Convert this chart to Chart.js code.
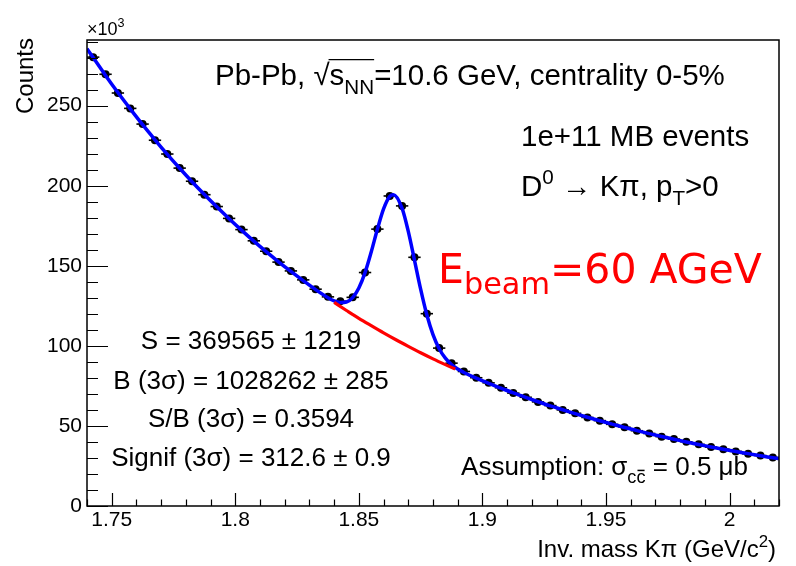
<!DOCTYPE html>
<html>
<head>
<meta charset="utf-8">
<script src="https://cdn.jsdelivr.net/npm/chart.js@4.4.1/dist/chart.umd.min.js"></script>
<style>
  html, body { margin: 0; padding: 0; background: #fff; }
  canvas { display: block; }
</style>
</head>
<body>
<canvas id="massChart" width="796" height="566"></canvas>
<script>
// ============================================================================
// Data (counts in units of 10^3)
// ============================================================================

// bin centres of the invariant mass histogram (GeV/c^2), bin width 5 MeV
const binMass = [
  1.7425, 1.7475, 1.7525, 1.7575, 1.7625, 1.7675, 1.7725, 1.7775, 1.7825, 1.7875,
  1.7925, 1.7975, 1.8025, 1.8075, 1.8125, 1.8175, 1.8225, 1.8275, 1.8325, 1.8375,
  1.8425, 1.8475, 1.8525, 1.8575, 1.8625, 1.8675, 1.8725, 1.8775, 1.8825, 1.8875,
  1.8925, 1.8975, 1.9025, 1.9075, 1.9125, 1.9175, 1.9225, 1.9275, 1.9325, 1.9375,
  1.9425, 1.9475, 1.9525, 1.9575, 1.9625, 1.9675, 1.9725, 1.9775, 1.9825, 1.9875,
  1.9925, 1.9975, 2.0025, 2.0075, 2.0125, 2.0175
];
const binCounts = [
  280.3, 269.6, 257.9, 248.3, 238.5, 228.4, 219.8, 211.0, 202.8, 194.4,
  187.0, 179.6, 172.6, 165.6, 159.1, 152.3, 146.8, 141.2, 135.4, 130.6,
  127.9, 130.3, 145.8, 172.9, 193.6, 187.4, 155.3, 120.1, 98.6, 89.2,
  84.0, 80.1, 76.9, 73.8, 70.5, 67.9, 65.0, 62.7, 60.0, 57.9,
  55.3, 53.3, 51.0, 49.2, 47.0, 45.3, 43.3, 41.8, 40.1, 38.5,
  36.8, 35.5, 34.1, 32.6, 31.5, 30.3
];
const binHalfWidth = 0.0025;

// total fit (signal + background)
const fitMass = [
  1.74,
  1.7425, 1.7475, 1.7525, 1.7575, 1.7625, 1.7675, 1.7725, 1.7775, 1.7825, 1.7875,
  1.7925, 1.7975, 1.8025, 1.8075, 1.8125, 1.8175, 1.8225, 1.8275, 1.8325,
  1.8375, 1.84, 1.8425, 1.845, 1.8475, 1.85, 1.8525, 1.855, 1.8575, 1.86,
  1.8625, 1.864, 1.8675, 1.87, 1.8725, 1.875, 1.8775, 1.88, 1.8825, 1.885,
  1.8875, 1.89, 1.8925,
  1.8975, 1.9025, 1.9075, 1.9125, 1.9175, 1.9225, 1.9275, 1.9325, 1.9375, 1.9425,
  1.9475, 1.9525, 1.9575, 1.9625, 1.9675, 1.9725, 1.9775, 1.9825, 1.9875, 1.9925,
  1.9975, 2.0025, 2.0075, 2.0125, 2.0175,
  2.02
];
const fitCounts = [
  285.6,
  280.0, 268.9, 258.2, 248.0, 238.1, 228.7, 219.6, 210.9, 202.5, 194.5,
  186.8, 179.4, 172.3, 165.4, 158.8, 152.5, 146.5, 140.7, 135.1,
  130.1, 128.1, 127.1, 127.4, 130.1, 136.1, 145.7, 158.6, 172.8, 185.5,
  193.3, 194.4, 185.9, 171.5, 153.6, 135.4, 119.4, 107.0, 98.2, 92.3,
  88.3, 85.5, 83.4,
  79.8, 76.6, 73.6, 70.6, 67.8, 65.1, 62.5, 60.1, 57.7, 55.4,
  53.2, 51.1, 49.0, 47.1, 45.2, 43.4, 41.7, 40.0, 38.4, 36.9,
  35.4, 34.0, 32.7, 31.4, 30.1,
  29.6
];

// background under the peak (red curve, +-3 sigma window)
const bkgMass = [1.84, 1.845, 1.85, 1.855, 1.86, 1.865, 1.87, 1.875, 1.88, 1.885, 1.889];
const bkgCounts = [127.1, 122.1, 117.2, 112.6, 108.1, 103.8, 99.7, 95.7, 91.9, 88.3, 85.5];

// axis ranges and ticks
const massMin = 1.74;
const massMax = 2.02;
const countsMax = 291;
const massStep = 0.05;
const countsStep = 50;

// ============================================================================
// Drawing helpers
// ============================================================================

const FONT = "'Liberation Sans', Arial, Helvetica, sans-serif";

/**
 * Draw a line of text made of parts: {t, sub, sup, bar, root}
 */
function drawRich(ctx, parts, x, y, size, opts) {
  const o = Object.assign({ family: FONT, color: '#000', align: 'left',
    small: 0.7, subShift: 0.3, supShift: 0.42 }, opts || {});
  const items = parts.map(p => {
    const s = (p.sub || p.sup) ? size * o.small : size;
    ctx.font = s + 'px ' + o.family;
    return Object.assign({ s: s, w: ctx.measureText(p.t).width }, p);
  });
  const total = items.reduce((sum, it) => sum + it.w, 0);
  let cx = x;
  if (o.align === 'right') cx = x - total;
  if (o.align === 'center') cx = x - total / 2;

  ctx.save();
  ctx.fillStyle = o.color;
  ctx.strokeStyle = o.color;
  ctx.textAlign = 'left';
  ctx.textBaseline = 'alphabetic';
  let rootStart = null, rootEnd = null;
  items.forEach(it => {
    const dy = it.sub ? size * o.subShift : (it.sup ? -size * o.supShift : 0);
    ctx.font = it.s + 'px ' + o.family;
    ctx.fillText(it.t, cx, y + dy);
    if (it.bar) {
      ctx.lineWidth = 1.5;
      ctx.beginPath();
      ctx.moveTo(cx + 1, y + dy - it.s * 0.68);
      ctx.lineTo(cx + it.w - 1, y + dy - it.s * 0.68);
      ctx.stroke();
    }
    if (it.root) {
      if (rootStart === null) rootStart = cx;
      rootEnd = cx + it.w;
    }
    cx += it.w;
  });
  if (rootStart !== null) {
    ctx.lineWidth = 1.2;
    ctx.beginPath();
    ctx.moveTo(rootStart - 1, y - size * 0.86);
    ctx.lineTo(rootEnd, y - size * 0.86);
    ctx.stroke();
  }
  ctx.restore();
}

// ROOT style frame, inward ticks, error bars and labels
const rootStyle = {
  id: 'rootStyle',
  beforeDatasetDraw(chart, args) {
    if (args.index !== 2) return;
    const ctx = chart.ctx;
    const xs = chart.scales.x, ys = chart.scales.y;
    ctx.save();
    ctx.strokeStyle = '#000';
    ctx.lineWidth = 1.6;
    binMass.forEach((m, i) => {
      const y = ys.getPixelForValue(binCounts[i]);
      ctx.beginPath();
      ctx.moveTo(xs.getPixelForValue(m - binHalfWidth), y);
      ctx.lineTo(xs.getPixelForValue(m + binHalfWidth), y);
      ctx.stroke();
    });
    ctx.restore();
  },
  afterDraw(chart) {
    const ctx = chart.ctx;
    const a = chart.chartArea;
    const xs = chart.scales.x, ys = chart.scales.y;
    ctx.save();

    // frame
    ctx.strokeStyle = '#000';
    ctx.lineWidth = 1.5;
    ctx.strokeRect(a.left, a.top, a.right - a.left, a.bottom - a.top);

    // x ticks (every 0.01, major every 0.05)
    ctx.lineWidth = 1.2;
    ctx.beginPath();
    for (let k = 174; k <= 202; k++) {
      const px = Math.round(xs.getPixelForValue(k / 100)) + 0.5;
      const len = (k % 5 === 0) ? 13 : 6.5;
      ctx.moveTo(px, a.bottom);
      ctx.lineTo(px, a.bottom - len);
    }
    // y ticks (every 10, major every 50)
    for (let v = 0; v <= countsMax; v += 10) {
      const py = Math.round(ys.getPixelForValue(v)) + 0.5;
      const len = (v % 50 === 0) ? 21 : 11;
      ctx.moveTo(a.left, py);
      ctx.lineTo(a.left + len, py);
    }
    ctx.stroke();

    // axis titles
    drawRich(ctx, [{ t: '\u00d710' }, { t: '3', sup: true }], a.left, 35, 18);
    ctx.save();
    ctx.translate(33, 38);
    ctx.rotate(-Math.PI / 2);
    ctx.font = '24px ' + FONT;
    ctx.fillStyle = '#000';
    ctx.textAlign = 'right';
    ctx.textBaseline = 'alphabetic';
    ctx.fillText('Counts', 0, 0);
    ctx.restore();
    drawRich(ctx, [{ t: 'Inv. mass K\u03c0 (GeV/c' }, { t: '2', sup: true }, { t: ')' }],
      776, 557, 24, { align: 'right' });

    // collision system
    drawRich(ctx, [
      { t: 'Pb-Pb, ' }, { t: '\u221a' }, { t: 's', root: true },
      { t: 'NN', sub: true, root: true }, { t: '=10.6 GeV, centrality 0-5%' }
    ], 215, 85, 29.5);
    drawRich(ctx, [{ t: '1e+11 MB events' }], 521, 146, 29.5);
    drawRich(ctx, [
      { t: 'D' }, { t: '0', sup: true }, { t: ' \u2192 K\u03c0, p' },
      { t: 'T', sub: true }, { t: '>0' }
    ], 521, 196, 29.5);

    // beam energy
    drawRich(ctx, [{ t: 'E' }, { t: 'beam', sub: true }, { t: '=60 AGeV' }],
      438, 283, 41, { family: "'DejaVu Sans', Verdana, sans-serif", color: '#ff0000',
        small: 0.74, subShift: 0.27 });

    // fit results
    const sx = 251;
    drawRich(ctx, [{ t: 'S = 369565 \u00b1 1219' }], sx, 349, 26, { align: 'center' });
    drawRich(ctx, [{ t: 'B (3\u03c3) = 1028262 \u00b1 285' }], sx, 389, 26, { align: 'center' });
    drawRich(ctx, [{ t: 'S/B (3\u03c3) = 0.3594' }], sx, 427, 26, { align: 'center' });
    drawRich(ctx, [{ t: 'Signif (3\u03c3) = 312.6 \u00b1 0.9' }], sx, 466, 26, { align: 'center' });

    drawRich(ctx, [
      { t: 'Assumption: \u03c3' }, { t: 'c', sub: true }, { t: 'c', sub: true, bar: true },
      { t: ' = 0.5 \u03bcb' }
    ], 748, 475, 26, { align: 'right' });

    ctx.restore();
  }
};

// ============================================================================
// Chart
// ============================================================================

const points = (xs, ys) => xs.map((x, i) => ({ x: x, y: ys[i] }));

const tickFont = { family: FONT, size: 21 };

new Chart(document.getElementById('massChart').getContext('2d'), {
  type: 'scatter',
  data: {
    datasets: [
      {
        label: 'Background',
        data: points(bkgMass, bkgCounts),
        showLine: true,
        borderColor: '#ff0000',
        borderWidth: 3.2,
        pointRadius: 0,
        cubicInterpolationMode: 'monotone'
      },
      {
        label: 'Fit',
        data: points(fitMass, fitCounts),
        showLine: true,
        borderColor: '#0000ff',
        borderWidth: 3.5,
        pointRadius: 0,
        cubicInterpolationMode: 'monotone'
      },
      {
        label: 'Data',
        data: points(binMass, binCounts),
        showLine: false,
        pointRadius: 4,
        pointBackgroundColor: '#000',
        pointBorderWidth: 0
      }
    ]
  },
  options: {
    responsive: false,
    animation: false,
    devicePixelRatio: 1,
    layout: { padding: { left: 0, right: 17, top: 40, bottom: 0 } },
    plugins: {
      legend: { display: false },
      tooltip: { enabled: false }
    },
    scales: {
      x: {
        type: 'linear',
        min: massMin,
        max: massMax,
        grid: { display: false, drawTicks: false },
        border: { display: false },
        ticks: {
          stepSize: massStep,
          includeBounds: false,
          padding: 2,
          color: '#000',
          font: tickFont,
          maxRotation: 0,
          callback: v => String(Number(v.toFixed(2)))
        },
        afterFit: s => { s.height = 60; }
      },
      y: {
        type: 'linear',
        min: 0,
        max: countsMax,
        grid: { display: false, drawTicks: false },
        border: { display: false },
        ticks: {
          stepSize: countsStep,
          includeBounds: false,
          padding: 5,
          color: '#000',
          font: tickFont
        },
        afterFit: s => { s.width = 87; }
      }
    }
  },
  plugins: [rootStyle]
});
</script>
</body>
</html>
